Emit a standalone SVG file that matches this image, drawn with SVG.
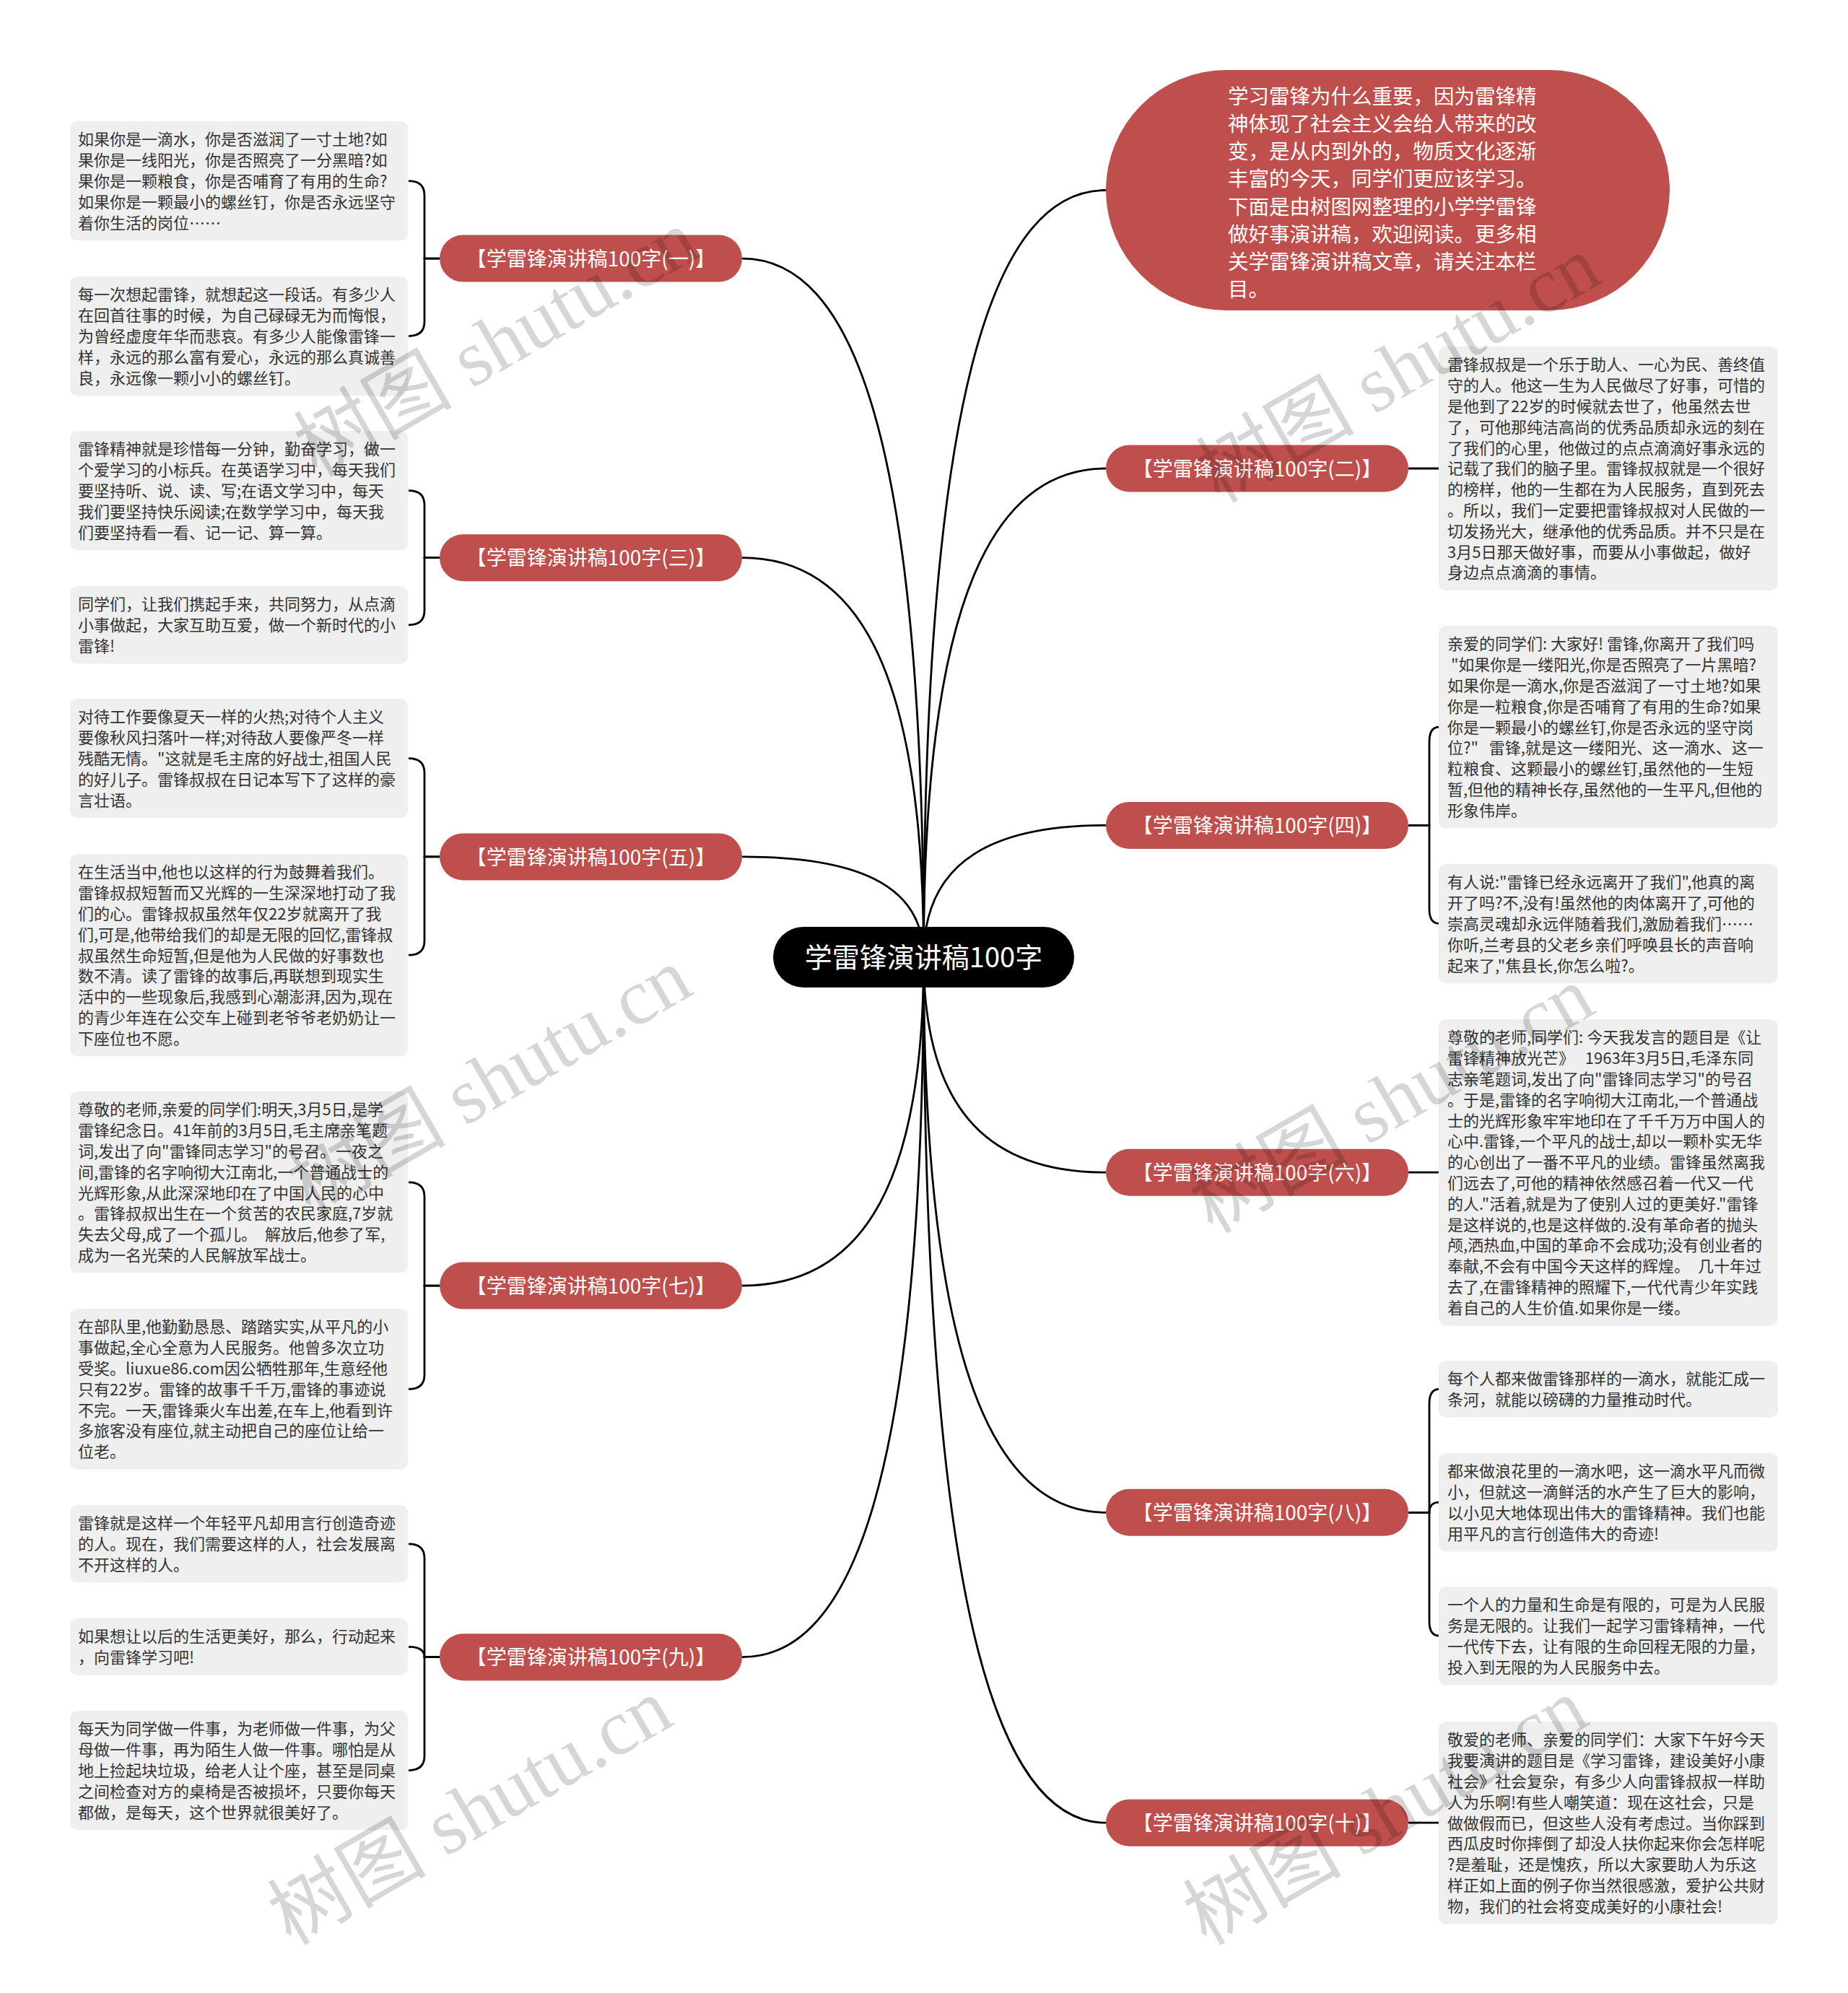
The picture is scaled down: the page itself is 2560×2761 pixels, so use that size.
<svg xmlns="http://www.w3.org/2000/svg" width="2560" height="2761" viewBox="0 0 2560 2761">
<style>
.bg{fill:#ffffff}
.box{fill:#efefef}
.pill{fill:#bf4f4d}
.bt{font-family:"Noto Sans CJK SC","Noto Sans",sans-serif;font-size:22px;fill:#333333;white-space:pre}
.pt{font-family:"Noto Sans CJK SC","Noto Sans",sans-serif;font-size:28px;fill:#ffffff;text-anchor:middle}
.et{font-family:"Noto Sans CJK SC","Noto Sans",sans-serif;font-size:28.5px;fill:#ffffff}
.ct{font-family:"Noto Sans CJK SC","Noto Sans",sans-serif;font-size:38px;fill:#ffffff;text-anchor:middle}
.conn path{fill:none;stroke:#000000;stroke-width:2.8}
.wm{font-family:"Liberation Serif","Noto Sans CJK SC",serif;font-size:110px;fill:#000000;fill-opacity:0.16;text-anchor:middle}
</style>
<rect class="bg" x="0" y="0" width="2560" height="2761"/>

<g id="connectors" class="conn">
<path d="M1028 358.1 C1179 358.1,1279.5 600.1,1279.5 1326"/>
<path d="M1028 772.7 C1179 772.7,1279.5 911,1279.5 1326"/>
<path d="M1028 1186.9 C1179 1186.9,1279.5 1221.7,1279.5 1326"/>
<path d="M1028 1781.1 C1179 1781.1,1279.5 1667.3,1279.5 1326"/>
<path d="M1028 2295.7 C1179 2295.7,1279.5 2053.3,1279.5 1326"/>
<path d="M1532 263.5 C1381 263.5,1279.5 529.1,1279.5 1326"/>
<path d="M1532 649 C1381 649,1279.5 818.3,1279.5 1326"/>
<path d="M1532 1143.4 C1381 1143.4,1279.5 1189.1,1279.5 1326"/>
<path d="M1532 1624.2 C1381 1624.2,1279.5 1549.6,1279.5 1326"/>
<path d="M1532 2095.3 C1381 2095.3,1279.5 1903,1279.5 1326"/>
<path d="M1532 2525.2 C1381 2525.2,1279.5 2225.4,1279.5 1326"/>

<path d="M609 358.1 H588 V270.6 Q588 250.6 566 250.6"/>
<path d="M609 358.1 H588 V445.6 Q588 465.6 566 465.6"/>
<path d="M609 772.7 H588 V699.6 Q588 679.6 566 679.6"/>
<path d="M609 772.7 H588 V845.8 Q588 865.8 566 865.8"/>
<path d="M609 1186.9 H588 V1070.6 Q588 1050.6 566 1050.6"/>
<path d="M609 1186.9 H588 V1303.2 Q588 1323.2 566 1323.2"/>
<path d="M609 1781.1 H588 V1657.8 Q588 1637.8 566 1637.8"/>
<path d="M609 1781.1 H588 V1904.4 Q588 1924.4 566 1924.4"/>
<path d="M609 2295.7 H588 V2158.8 Q588 2138.8 566 2138.8"/>
<path d="M609 2295.7 H588 Q588 2281.4 566 2281.4"/>
<path d="M609 2295.7 H588 V2432.6 Q588 2452.6 566 2452.6"/>

<path d="M1951 649 H1994"/>
<path d="M1951 1143.4 H1980 V1027.2 Q1980 1007.2 1994 1007.2"/>
<path d="M1951 1143.4 H1980 V1259.6 Q1980 1279.6 1994 1279.6"/>
<path d="M1951 1624.2 H1994"/>
<path d="M1951 2095.3 H1980 V1944.4 Q1980 1924.4 1994 1924.4"/>
<path d="M1951 2095.3 H1980 Q1980 2081.2 1994 2081.2"/>
<path d="M1951 2095.3 H1980 V2246.2 Q1980 2266.2 1994 2266.2"/>
<path d="M1951 2525.2 H1994"/>
</g>

<g id="root">
<rect x="1071" y="1284" width="417" height="84" rx="42" fill="#000000"/>
<text class="ct" x="1279.5" y="1340.4">学雷锋演讲稿100字</text>
</g>

<g id="intro">
<rect class="pill" x="1532" y="97" width="781" height="333" rx="166.5"/>
<text class="et" x="1701" y="144.1"><tspan x="1701">学习雷锋为什么重要，因为雷锋精</tspan><tspan x="1701" dy="38.1">神体现了社会主义会给人带来的改</tspan><tspan x="1701" dy="38.1">变，是从内到外的，物质文化逐渐</tspan><tspan x="1701" dy="38.1">丰富的今天，同学们更应该学习。</tspan><tspan x="1701" dy="38.1">下面是由树图网整理的小学学雷锋</tspan><tspan x="1701" dy="38.1">做好事演讲稿，欢迎阅读。更多相</tspan><tspan x="1701" dy="38.1">关学雷锋演讲稿文章，请关注本栏</tspan><tspan x="1701" dy="38.1">目。</tspan></text>
</g>

<g id="b1">
<rect class="pill" x="609" y="325.6" width="419" height="65" rx="32.5"/>
<text class="pt" x="818.5" y="368.7">【学雷锋演讲稿100字(一)】</text>
</g>
<g id="b1a">
<rect class="box" x="97" y="168" width="468" height="165.2" rx="10"/>
<text class="bt" x="108" y="201.4"><tspan x="108">如果你是一滴水，你是否滋润了一寸土地?如</tspan><tspan x="108" dy="28.8">果你是一线阳光，你是否照亮了一分黑暗?如</tspan><tspan x="108" dy="28.8">果你是一颗粮食，你是否哺育了有用的生命?</tspan><tspan x="108" dy="28.8">如果你是一颗最小的螺丝钉，你是否永远坚守</tspan><tspan x="108" dy="28.8">着你生活的岗位……</tspan></text>
</g>
<g id="b1b">
<rect class="box" x="97" y="383" width="468" height="165.2" rx="10"/>
<text class="bt" x="108" y="416.4"><tspan x="108">每一次想起雷锋，就想起这一段话。有多少人</tspan><tspan x="108" dy="28.8">在回首往事的时候，为自己碌碌无为而悔恨，</tspan><tspan x="108" dy="28.8">为曾经虚度年华而悲哀。有多少人能像雷锋一</tspan><tspan x="108" dy="28.8">样，永远的那么富有爱心，永远的那么真诚善</tspan><tspan x="108" dy="28.8">良，永远像一颗小小的螺丝钉。</tspan></text>
</g>

<g id="b3">
<rect class="pill" x="609" y="740.2" width="419" height="65" rx="32.5"/>
<text class="pt" x="818.5" y="783.3">【学雷锋演讲稿100字(三)】</text>
</g>
<g id="b3a">
<rect class="box" x="97" y="597" width="468" height="165.2" rx="10"/>
<text class="bt" x="108" y="630.4"><tspan x="108">雷锋精神就是珍惜每一分钟，勤奋学习，做一</tspan><tspan x="108" dy="28.8">个爱学习的小标兵。在英语学习中，每天我们</tspan><tspan x="108" dy="28.8">要坚持听、说、读、写;在语文学习中，每天</tspan><tspan x="108" dy="28.8">我们要坚持快乐阅读;在数学学习中，每天我</tspan><tspan x="108" dy="28.8">们要坚持看一看、记一记、算一算。</tspan></text>
</g>
<g id="b3b">
<rect class="box" x="97" y="812" width="468" height="107.6" rx="10"/>
<text class="bt" x="108" y="845.4"><tspan x="108">同学们，让我们携起手来，共同努力，从点滴</tspan><tspan x="108" dy="28.8">小事做起，大家互助互爱，做一个新时代的小</tspan><tspan x="108" dy="28.8">雷锋!</tspan></text>
</g>

<g id="b5">
<rect class="pill" x="609" y="1154.4" width="419" height="65" rx="32.5"/>
<text class="pt" x="818.5" y="1197.5">【学雷锋演讲稿100字(五)】</text>
</g>
<g id="b5a">
<rect class="box" x="97" y="968" width="468" height="165.2" rx="10"/>
<text class="bt" x="108" y="1001.4"><tspan x="108">对待工作要像夏天一样的火热;对待个人主义</tspan><tspan x="108" dy="28.8">要像秋风扫落叶一样;对待敌人要像严冬一样</tspan><tspan x="108" dy="28.8">残酷无情。"这就是毛主席的好战士,祖国人民</tspan><tspan x="108" dy="28.8">的好儿子。雷锋叔叔在日记本写下了这样的豪</tspan><tspan x="108" dy="28.8">言壮语。</tspan></text>
</g>
<g id="b5b">
<rect class="box" x="97" y="1183" width="468" height="280.4" rx="10"/>
<text class="bt" x="108" y="1216.4"><tspan x="108">在生活当中,他也以这样的行为鼓舞着我们。</tspan><tspan x="108" dy="28.8">雷锋叔叔短暂而又光辉的一生深深地打动了我</tspan><tspan x="108" dy="28.8">们的心。雷锋叔叔虽然年仅22岁就离开了我</tspan><tspan x="108" dy="28.8">们,可是,他带给我们的却是无限的回忆,雷锋叔</tspan><tspan x="108" dy="28.8">叔虽然生命短暂,但是他为人民做的好事数也</tspan><tspan x="108" dy="28.8">数不清。读了雷锋的故事后,再联想到现实生</tspan><tspan x="108" dy="28.8">活中的一些现象后,我感到心潮澎湃,因为,现在</tspan><tspan x="108" dy="28.8">的青少年连在公交车上碰到老爷爷老奶奶让一</tspan><tspan x="108" dy="28.8">下座位也不愿。</tspan></text>
</g>

<g id="b7">
<rect class="pill" x="609" y="1748.6" width="419" height="65" rx="32.5"/>
<text class="pt" x="818.5" y="1791.7">【学雷锋演讲稿100字(七)】</text>
</g>
<g id="b7a">
<rect class="box" x="97" y="1512" width="468" height="251.6" rx="10"/>
<text class="bt" x="108" y="1545.4"><tspan x="108">尊敬的老师,亲爱的同学们:明天,3月5日,是学</tspan><tspan x="108" dy="28.8">雷锋纪念日。41年前的3月5日,毛主席亲笔题</tspan><tspan x="108" dy="28.8">词,发出了向"雷锋同志学习"的号召。一夜之</tspan><tspan x="108" dy="28.8">间,雷锋的名字响彻大江南北,一个普通战士的</tspan><tspan x="108" dy="28.8">光辉形象,从此深深地印在了中国人民的心中</tspan><tspan x="108" dy="28.8">。雷锋叔叔出生在一个贫苦的农民家庭,7岁就</tspan><tspan x="108" dy="28.8">失去父母,成了一个孤儿。　解放后,他参了军,</tspan><tspan x="108" dy="28.8">成为一名光荣的人民解放军战士。</tspan></text>
</g>
<g id="b7b">
<rect class="box" x="97" y="1813" width="468" height="222.8" rx="10"/>
<text class="bt" x="108" y="1846.4"><tspan x="108">在部队里,他勤勤恳恳、踏踏实实,从平凡的小</tspan><tspan x="108" dy="28.8">事做起,全心全意为人民服务。他曾多次立功</tspan><tspan x="108" dy="28.8">受奖。liuxue86.com因公牺牲那年,生意经他</tspan><tspan x="108" dy="28.8">只有22岁。雷锋的故事千千万,雷锋的事迹说</tspan><tspan x="108" dy="28.8">不完。一天,雷锋乘火车出差,在车上,他看到许</tspan><tspan x="108" dy="28.8">多旅客没有座位,就主动把自己的座位让给一</tspan><tspan x="108" dy="28.8">位老。</tspan></text>
</g>

<g id="b9">
<rect class="pill" x="609" y="2263.2" width="419" height="65" rx="32.5"/>
<text class="pt" x="818.5" y="2306.3">【学雷锋演讲稿100字(九)】</text>
</g>
<g id="b9a">
<rect class="box" x="97" y="2085" width="468" height="107.6" rx="10"/>
<text class="bt" x="108" y="2118.4"><tspan x="108">雷锋就是这样一个年轻平凡却用言行创造奇迹</tspan><tspan x="108" dy="28.8">的人。现在，我们需要这样的人，社会发展离</tspan><tspan x="108" dy="28.8">不开这样的人。</tspan></text>
</g>
<g id="b9b">
<rect class="box" x="97" y="2242" width="468" height="78.8" rx="10"/>
<text class="bt" x="108" y="2275.4"><tspan x="108">如果想让以后的生活更美好，那么，行动起来</tspan><tspan x="108" dy="28.8">，向雷锋学习吧!</tspan></text>
</g>
<g id="b9c">
<rect class="box" x="97" y="2370" width="468" height="165.2" rx="10"/>
<text class="bt" x="108" y="2403.4"><tspan x="108">每天为同学做一件事，为老师做一件事，为父</tspan><tspan x="108" dy="28.8">母做一件事，再为陌生人做一件事。哪怕是从</tspan><tspan x="108" dy="28.8">地上捡起块垃圾，给老人让个座，甚至是同桌</tspan><tspan x="108" dy="28.8">之间检查对方的桌椅是否被损坏，只要你每天</tspan><tspan x="108" dy="28.8">都做，是每天，这个世界就很美好了。</tspan></text>
</g>

<g id="b2">
<rect class="pill" x="1532" y="616.5" width="419" height="65" rx="32.5"/>
<text class="pt" x="1741.5" y="659.6">【学雷锋演讲稿100字(二)】</text>
</g>
<g id="b2a">
<rect class="box" x="1993" y="480" width="470" height="338" rx="10"/>
<text class="bt" x="2005" y="513.4"><tspan x="2005">雷锋叔叔是一个乐于助人、一心为民、善终值</tspan><tspan x="2005" dy="28.8">守的人。他这一生为人民做尽了好事，可惜的</tspan><tspan x="2005" dy="28.8">是他到了22岁的时候就去世了，他虽然去世</tspan><tspan x="2005" dy="28.8">了，可他那纯洁高尚的优秀品质却永远的刻在</tspan><tspan x="2005" dy="28.8">了我们的心里，他做过的点点滴滴好事永远的</tspan><tspan x="2005" dy="28.8">记载了我们的脑子里。雷锋叔叔就是一个很好</tspan><tspan x="2005" dy="28.8">的榜样，他的一生都在为人民服务，直到死去</tspan><tspan x="2005" dy="28.8">。所以，我们一定要把雷锋叔叔对人民做的一</tspan><tspan x="2005" dy="28.8">切发扬光大，继承他的优秀品质。并不只是在</tspan><tspan x="2005" dy="28.8">3月5日那天做好事，而要从小事做起，做好</tspan><tspan x="2005" dy="28.8">身边点点滴滴的事情。</tspan></text>
</g>

<g id="b4">
<rect class="pill" x="1532" y="1110.9" width="419" height="65" rx="32.5"/>
<text class="pt" x="1741.5" y="1154">【学雷锋演讲稿100字(四)】</text>
</g>
<g id="b4a">
<rect class="box" x="1993" y="867" width="470" height="280.4" rx="10"/>
<text class="bt" x="2005" y="900.4"><tspan x="2005">亲爱的同学们: 大家好! 雷锋,你离开了我们吗</tspan><tspan x="2005" dy="28.8"> "如果你是一缕阳光,你是否照亮了一片黑暗?</tspan><tspan x="2005" dy="28.8">如果你是一滴水,你是否滋润了一寸土地?如果</tspan><tspan x="2005" dy="28.8">你是一粒粮食,你是否哺育了有用的生命?如果</tspan><tspan x="2005" dy="28.8">你是一颗最小的螺丝钉,你是否永远的坚守岗</tspan><tspan x="2005" dy="28.8">位?"   雷锋,就是这一缕阳光、这一滴水、这一</tspan><tspan x="2005" dy="28.8">粒粮食、这颗最小的螺丝钉,虽然他的一生短</tspan><tspan x="2005" dy="28.8">暂,但他的精神长存,虽然他的一生平凡,但他的</tspan><tspan x="2005" dy="28.8">形象伟岸。</tspan></text>
</g>
<g id="b4b">
<rect class="box" x="1993" y="1197" width="470" height="165.2" rx="10"/>
<text class="bt" x="2005" y="1230.4"><tspan x="2005">有人说:"雷锋已经永远离开了我们",他真的离</tspan><tspan x="2005" dy="28.8">开了吗?不,没有!虽然他的肉体离开了,可他的</tspan><tspan x="2005" dy="28.8">崇高灵魂却永远伴随着我们,激励着我们……</tspan><tspan x="2005" dy="28.8">你听,兰考县的父老乡亲们呼唤县长的声音响</tspan><tspan x="2005" dy="28.8">起来了,"焦县长,你怎么啦?。</tspan></text>
</g>

<g id="b6">
<rect class="pill" x="1532" y="1591.7" width="419" height="65" rx="32.5"/>
<text class="pt" x="1741.5" y="1634.8">【学雷锋演讲稿100字(六)】</text>
</g>
<g id="b6a">
<rect class="box" x="1993" y="1412" width="470" height="424.4" rx="10"/>
<text class="bt" x="2005" y="1445.4"><tspan x="2005">尊敬的老师,同学们: 今天我发言的题目是《让</tspan><tspan x="2005" dy="28.8">雷锋精神放光芒》   1963年3月5日,毛泽东同</tspan><tspan x="2005" dy="28.8">志亲笔题词,发出了向"雷锋同志学习"的号召</tspan><tspan x="2005" dy="28.8">。于是,雷锋的名字响彻大江南北,一个普通战</tspan><tspan x="2005" dy="28.8">士的光辉形象牢牢地印在了千千万万中国人的</tspan><tspan x="2005" dy="28.8">心中.雷锋,一个平凡的战士,却以一颗朴实无华</tspan><tspan x="2005" dy="28.8">的心创出了一番不平凡的业绩。雷锋虽然离我</tspan><tspan x="2005" dy="28.8">们远去了,可他的精神依然感召着一代又一代</tspan><tspan x="2005" dy="28.8">的人."活着,就是为了使别人过的更美好."雷锋</tspan><tspan x="2005" dy="28.8">是这样说的,也是这样做的.没有革命者的抛头</tspan><tspan x="2005" dy="28.8">颅,洒热血,中国的革命不会成功;没有创业者的</tspan><tspan x="2005" dy="28.8">奉献,不会有中国今天这样的辉煌。　几十年过</tspan><tspan x="2005" dy="28.8">去了,在雷锋精神的照耀下,一代代青少年实践</tspan><tspan x="2005" dy="28.8">着自己的人生价值.如果你是一缕。</tspan></text>
</g>

<g id="b8">
<rect class="pill" x="1532" y="2062.8" width="419" height="65" rx="32.5"/>
<text class="pt" x="1741.5" y="2105.9">【学雷锋演讲稿100字(八)】</text>
</g>
<g id="b8a">
<rect class="box" x="1993" y="1885" width="470" height="78.8" rx="10"/>
<text class="bt" x="2005" y="1918.4"><tspan x="2005">每个人都来做雷锋那样的一滴水，就能汇成一</tspan><tspan x="2005" dy="28.8">条河，就能以磅礴的力量推动时代。</tspan></text>
</g>
<g id="b8b">
<rect class="box" x="1993" y="2013" width="470" height="136.4" rx="10"/>
<text class="bt" x="2005" y="2046.4"><tspan x="2005">都来做浪花里的一滴水吧，这一滴水平凡而微</tspan><tspan x="2005" dy="28.8">小，但就这一滴鲜活的水产生了巨大的影响，</tspan><tspan x="2005" dy="28.8">以小见大地体现出伟大的雷锋精神。我们也能</tspan><tspan x="2005" dy="28.8">用平凡的言行创造伟大的奇迹!</tspan></text>
</g>
<g id="b8c">
<rect class="box" x="1993" y="2198" width="470" height="136.4" rx="10"/>
<text class="bt" x="2005" y="2231.4"><tspan x="2005">一个人的力量和生命是有限的，可是为人民服</tspan><tspan x="2005" dy="28.8">务是无限的。让我们一起学习雷锋精神，一代</tspan><tspan x="2005" dy="28.8">一代传下去，让有限的生命回程无限的力量，</tspan><tspan x="2005" dy="28.8">投入到无限的为人民服务中去。</tspan></text>
</g>

<g id="b10">
<rect class="pill" x="1532" y="2492.7" width="419" height="65" rx="32.5"/>
<text class="pt" x="1741.5" y="2535.8">【学雷锋演讲稿100字(十)】</text>
</g>
<g id="b10a">
<rect class="box" x="1993" y="2385" width="470" height="280.4" rx="10"/>
<text class="bt" x="2005" y="2418.4"><tspan x="2005">敬爱的老师、亲爱的同学们：大家下午好今天</tspan><tspan x="2005" dy="28.8">我要演讲的题目是《学习雷锋，建设美好小康</tspan><tspan x="2005" dy="28.8">社会》社会复杂，有多少人向雷锋叔叔一样助</tspan><tspan x="2005" dy="28.8">人为乐啊!有些人嘲笑道：现在这社会，只是</tspan><tspan x="2005" dy="28.8">做做假而已，但这些人没有考虑过。当你踩到</tspan><tspan x="2005" dy="28.8">西瓜皮时你摔倒了却没人扶你起来你会怎样呢</tspan><tspan x="2005" dy="28.8">?是羞耻，还是愧疚，所以大家要助人为乐这</tspan><tspan x="2005" dy="28.8">样正如上面的例子你当然很感激，爱护公共财</tspan><tspan x="2005" dy="28.8">物，我们的社会将变成美好的小康社会!</tspan></text>
</g>

<g id="watermarks">
<text class="wm" transform="translate(687,475) rotate(-30)" y="38">树图 shutu.cn</text>
<text class="wm" transform="translate(1937,511) rotate(-30)" y="38">树图 shutu.cn</text>
<text class="wm" transform="translate(678,1497) rotate(-30)" y="38">树图 shutu.cn</text>
<text class="wm" transform="translate(1928,1523) rotate(-30)" y="38">树图 shutu.cn</text>
<text class="wm" transform="translate(651,2509) rotate(-30)" y="38">树图 shutu.cn</text>
<text class="wm" transform="translate(1919,2509) rotate(-30)" y="38">树图 shutu.cn</text>
</g>
</svg>
